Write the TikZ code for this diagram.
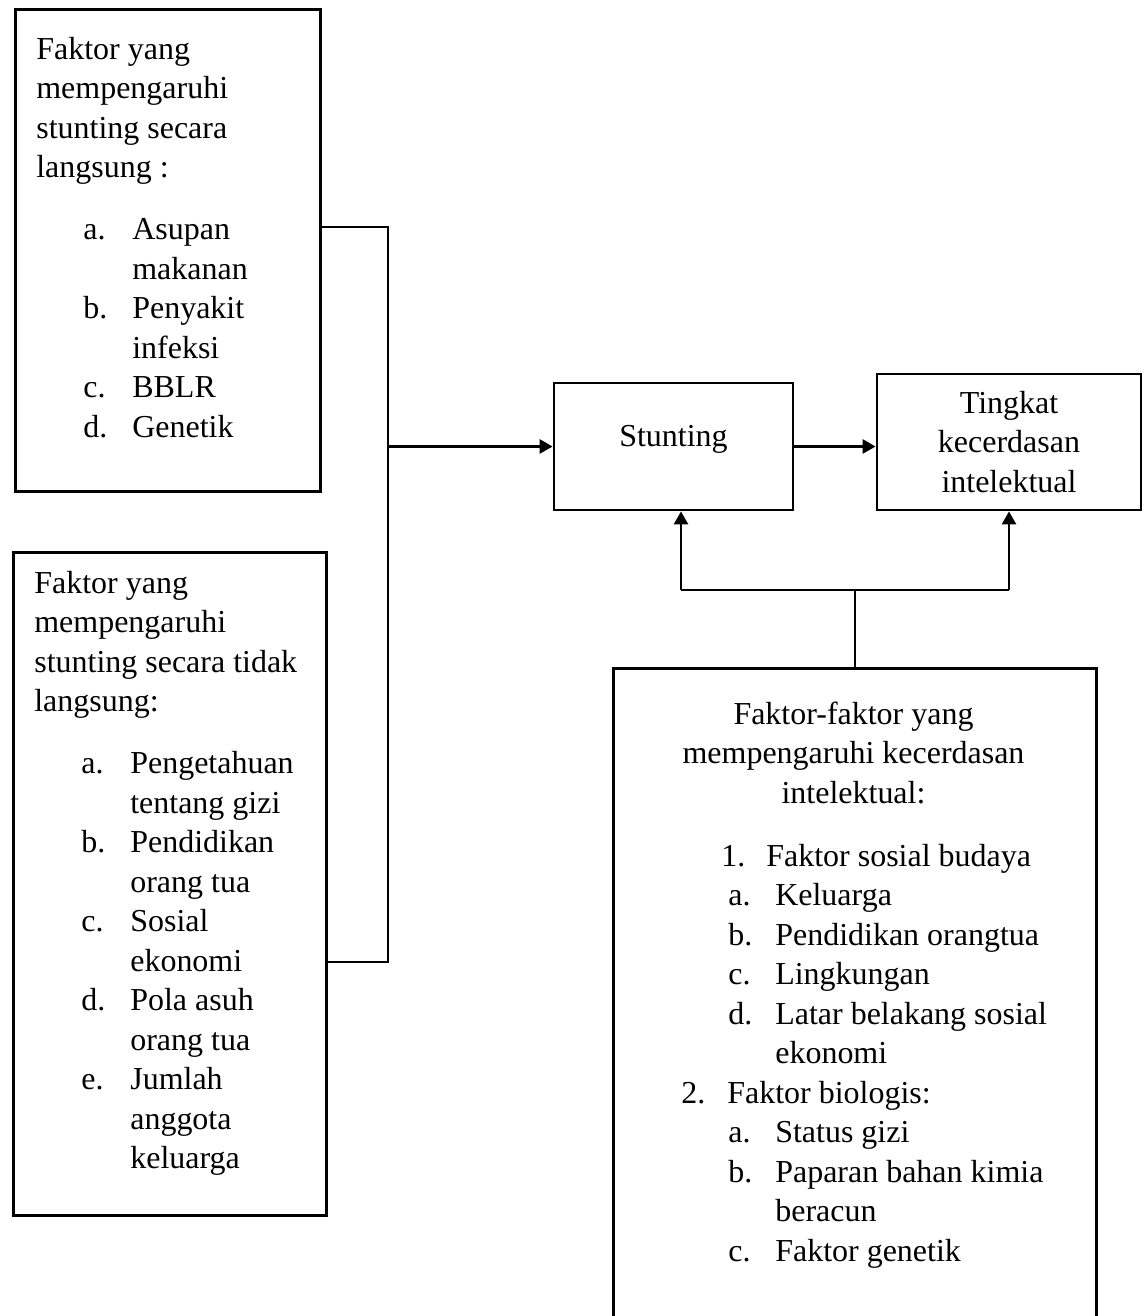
\documentclass[tikz,border=0pt]{standalone}
\usepackage{fontspec}
\setmainfont{Liberation Serif}
\usetikzlibrary{arrows.meta,positioning}
\newcommand{\diagfont}{\fontsize{18.2pt}{22.5pt}\selectfont}
\newcommand{\boxitem}[2]{\makebox[0.94cm][l]{}\makebox[0.98cm][l]{#1}#2}
\newcommand{\itemrow}[4]{\makebox[#1][l]{}\makebox[#2][l]{#3}#4}
\tikzset{
    framebox/.style={draw, line width=1.6pt, inner sep=0pt},
    midbox/.style={draw, line width=1.6pt, align=center, font=\diagfont},
    textblock/.style={inner sep=0pt, font=\diagfont},
    linkline/.style={line width=1.5pt},
    linkarrow/.style={line width=1.5pt, -{Triangle[length=0.26cm, width=0.28cm]}}
}
\begin{document}
\begin{tikzpicture}[x=0.02cm, y=-0.02cm]
    \useasboundingbox (0,0) rectangle (1143,1316);

    \node[framebox, anchor=north west, minimum width=6.1cm, minimum height=9.64cm] (direct) at (14,8) {};
    \node[framebox, anchor=north west, minimum width=6.26cm, minimum height=13.26cm] (indirect) at (12,551) {};
    \node[midbox, minimum width=4.78cm, minimum height=2.54cm, text height=1ex, text depth=1ex] (stunting) at (673.5,446.5) {Stunting};
    \node[midbox, minimum width=5.28cm, minimum height=2.72cm] (tingkat) at (1009,442) {Tingkat\\kecerdasan\\intelektual};
    \node[framebox, anchor=north west, minimum width=9.66cm, minimum height=14cm] (cerdas) at (612,667) {};

    \node[textblock, anchor=base west] (directtext) at (36,59) {\begin{tabular}[t]{@{}l@{}}
        Faktor yang\\ mempengaruhi\\ stunting secara\\ langsung :\\[0.45cm]
        \boxitem{a.}{Asupan}\\ \boxitem{}{makanan}\\
        \boxitem{b.}{Penyakit}\\ \boxitem{}{infeksi}\\
        \boxitem{c.}{BBLR}\\ \boxitem{d.}{Genetik}
    \end{tabular}};
    \node[textblock, anchor=base west] (indirecttext) at (34,593) {\begin{tabular}[t]{@{}l@{}}
        Faktor yang\\ mempengaruhi\\ stunting secara tidak\\ langsung:\\[0.45cm]
        \boxitem{a.}{Pengetahuan}\\ \boxitem{}{tentang gizi}\\
        \boxitem{b.}{Pendidikan}\\ \boxitem{}{orang tua}\\
        \boxitem{c.}{Sosial}\\ \boxitem{}{ekonomi}\\
        \boxitem{d.}{Pola asuh}\\ \boxitem{}{orang tua}\\
        \boxitem{e.}{Jumlah}\\ \boxitem{}{anggota}\\ \boxitem{}{keluarga}
    \end{tabular}};
    \node[textblock, anchor=base] (cerdastitle) at (853.5,724) {\begin{tabular}[t]{@{}c@{}}
        Faktor-faktor yang\\ mempengaruhi kecerdasan\\ intelektual:
    \end{tabular}};
    \node[textblock, anchor=base west] (cerdastext) at (681,866) {\begin{tabular}[t]{@{}l@{}}
        \itemrow{0.8cm}{0.9cm}{1.}{Faktor sosial budaya}\\
        \itemrow{0.94cm}{0.94cm}{a.}{Keluarga}\\
        \itemrow{0.94cm}{0.94cm}{b.}{Pendidikan orangtua}\\
        \itemrow{0.94cm}{0.94cm}{c.}{Lingkungan}\\
        \itemrow{0.94cm}{0.94cm}{d.}{Latar belakang sosial}\\
        \itemrow{0.94cm}{0.94cm}{}{ekonomi}\\
        \itemrow{0cm}{0.92cm}{2.}{Faktor biologis:}\\
        \itemrow{0.94cm}{0.94cm}{a.}{Status gizi}\\
        \itemrow{0.94cm}{0.94cm}{b.}{Paparan bahan kimia}\\
        \itemrow{0.94cm}{0.94cm}{}{beracun}\\
        \itemrow{0.94cm}{0.94cm}{c.}{Faktor genetik}
    \end{tabular}};

    \coordinate (bustop) at (388,227);
    \coordinate (busbot) at (388,962);
    \coordinate (forkl) at (681,590);
    \coordinate (forkr) at (1009,590);

    \draw[linkline] (direct.east |- bustop) -- (bustop) -- (busbot) -- (indirect.east |- busbot);
    \draw[linkarrow] (bustop |- stunting.west) -- (stunting.west);
    \draw[linkarrow] (stunting.east) -- (tingkat.west |- stunting.east);
    \draw[linkline] (cerdas.north) -- (cerdas.north |- forkl);
    \draw[linkline] (forkl) -- (forkr);
    \draw[linkarrow] (forkl) -- (forkl |- stunting.south);
    \draw[linkarrow] (forkr) -- (tingkat.south);
\end{tikzpicture}
\end{document}
